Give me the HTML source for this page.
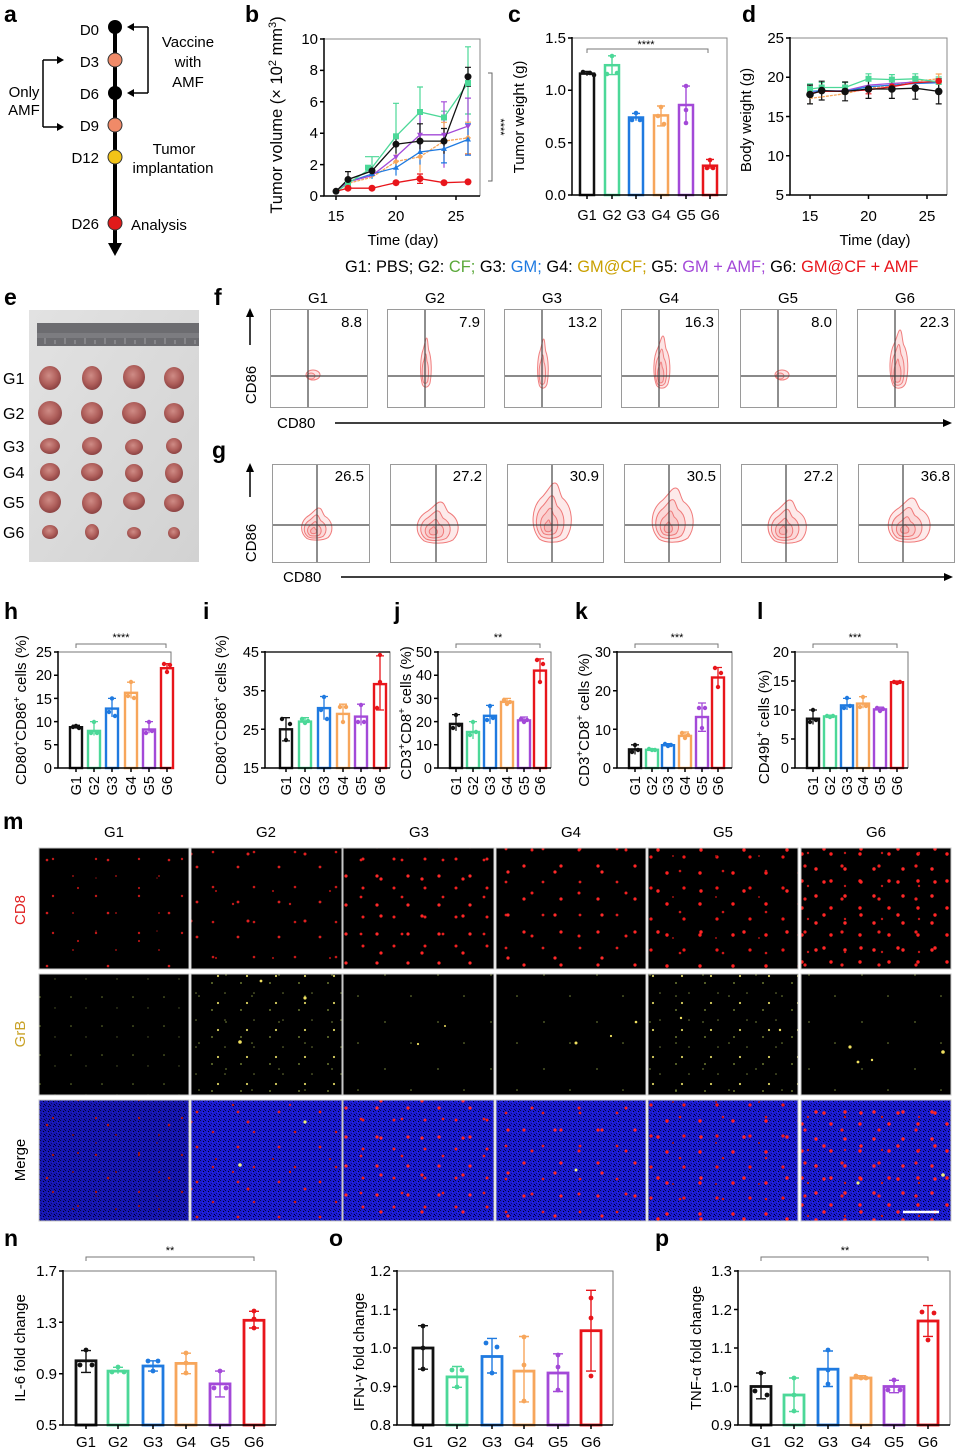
<!DOCTYPE html>
<html><head><meta charset="utf-8"><style>
html,body{margin:0;padding:0;background:#fff;}
svg{display:block;}
text{font-family:"Liberation Sans",Arial,sans-serif;}
</style></head><body>
<svg width="955" height="1450" viewBox="0 0 955 1450" xmlns="http://www.w3.org/2000/svg" font-family="Liberation Sans, Arial, sans-serif">
<defs>
<path id="blob" vector-effect="non-scaling-stroke" d="M-0.6,0.9 C-1.05,0.5 -1,-0.2 -0.45,-0.55 C-0.15,-0.8 -0.05,-1 0.1,-1 C0.3,-1 0.3,-0.7 0.45,-0.5 C0.95,-0.2 1,0.45 0.65,0.85 C0.35,1.05 -0.3,1.05 -0.6,0.9 Z"/>
<radialGradient id="tum" cx="0.45" cy="0.4" r="0.6">
<stop offset="0" stop-color="#cf8c86"/><stop offset="0.6" stop-color="#b0605c"/><stop offset="1" stop-color="#8c4242"/>
</radialGradient>
<linearGradient id="photo" x1="0" y1="0" x2="1" y2="1">
<stop offset="0" stop-color="#e2e2e2"/><stop offset="1" stop-color="#d2d2d2"/>
</linearGradient>
<pattern id="cd1" width="43" height="37" patternUnits="userSpaceOnUse"><circle cx="10" cy="8" r="1.2" fill="#c01818"/><circle cx="30" cy="25" r="1" fill="#901010"/></pattern>
<pattern id="cdx1" width="61" height="53" patternUnits="userSpaceOnUse"><circle cx="17" cy="40" r="1.1" fill="#b01414"/><circle cx="47" cy="12" r="1.3" fill="#d01c1c"/><circle cx="35" cy="30" r="0.8" fill="#801010"/></pattern>
<pattern id="cd2" width="41" height="35" patternUnits="userSpaceOnUse"><circle cx="8" cy="12" r="1.3" fill="#c81818"/><circle cx="33" cy="27" r="1.4" fill="#d82020"/></pattern>
<pattern id="cdx2" width="57" height="67" patternUnits="userSpaceOnUse"><circle cx="20" cy="50" r="1.5" fill="#e02020"/><circle cx="45" cy="20" r="1.1" fill="#a01010"/><circle cx="5" cy="33" r="1.2" fill="#c01818"/></pattern>
<pattern id="cd3" width="31" height="29" patternUnits="userSpaceOnUse"><circle cx="5" cy="6" r="1.6" fill="#ff2a2a"/><circle cx="22" cy="18" r="1.5" fill="#f02020"/></pattern>
<pattern id="cdx3" width="41" height="37" patternUnits="userSpaceOnUse"><circle cx="12" cy="28" r="1.6" fill="#ff2525"/><circle cx="33" cy="9" r="1.4" fill="#e81e1e"/></pattern>
<pattern id="cd4" width="37" height="33" patternUnits="userSpaceOnUse"><circle cx="6" cy="8" r="1.6" fill="#ff2525"/><circle cx="25" cy="24" r="1.4" fill="#e01e1e"/></pattern>
<pattern id="cdx4" width="47" height="43" patternUnits="userSpaceOnUse"><circle cx="15" cy="33" r="1.5" fill="#f22020"/><circle cx="38" cy="12" r="1.6" fill="#ff2a2a"/></pattern>
<pattern id="cd5" width="33" height="31" patternUnits="userSpaceOnUse"><circle cx="7" cy="5" r="1.7" fill="#ff2020"/><circle cx="24" cy="20" r="1.6" fill="#f01818"/></pattern>
<pattern id="cdx5" width="43" height="41" patternUnits="userSpaceOnUse"><circle cx="13" cy="30" r="1.7" fill="#ff2424"/><circle cx="35" cy="10" r="1.3" fill="#d01818"/><circle cx="28" cy="36" r="1" fill="#a01010"/></pattern>
<pattern id="cd6" width="29" height="27" patternUnits="userSpaceOnUse"><circle cx="4" cy="5" r="1.7" fill="#ff2828"/><circle cx="19" cy="17" r="1.7" fill="#ff2020"/></pattern>
<pattern id="cdx6" width="37" height="33" patternUnits="userSpaceOnUse"><circle cx="10" cy="24" r="1.7" fill="#ff2525"/><circle cx="28" cy="8" r="1.6" fill="#f02020"/><circle cx="31" cy="28" r="1.2" fill="#c01818"/></pattern>
<pattern id="gr1" width="31" height="29" patternUnits="userSpaceOnUse"><circle cx="9" cy="11" r="0.8" fill="#6a7a30"/><circle cx="24" cy="22" r="0.7" fill="#50582a"/></pattern>
<pattern id="gr2" width="29" height="27" patternUnits="userSpaceOnUse"><circle cx="9" cy="11" r="0.9" fill="#8a9a40"/><circle cx="22" cy="21" r="0.8" fill="#707a38"/><circle cx="15" cy="4" r="1.1" fill="#d8d060"/></pattern>
<pattern id="grx" width="53" height="47" patternUnits="userSpaceOnUse"><circle cx="14" cy="35" r="0.9" fill="#606c30"/><circle cx="40" cy="9" r="0.8" fill="#7a8a3a"/></pattern>
<pattern id="blu" width="5" height="5" patternUnits="userSpaceOnUse">
<rect width="5" height="5" fill="#1c1cd0"/><rect x="0" y="0" width="1" height="1" fill="#06064a"/><rect x="3" y="1" width="1" height="1" fill="#000020"/><rect x="1" y="3" width="1" height="1" fill="#0a0a80"/><rect x="4" y="4" width="1" height="1" fill="#000030"/><rect x="2" y="2" width="1" height="1" fill="#2a2ae6"/>
</pattern>
</defs>

<!-- ============ PANEL A ============ -->
<g font-size="15" fill="#000">
<text x="4" y="22" font-size="23" font-weight="bold">a</text>
<line x1="115" y1="27" x2="115" y2="246" stroke="#000" stroke-width="4"/>
<polygon points="108,243 122,243 115,256" fill="#000"/>
<circle cx="115" cy="27" r="7" fill="#000"/>
<circle cx="115" cy="60" r="7" fill="#f08a68" stroke="#333" stroke-width="1"/>
<circle cx="115" cy="93" r="7" fill="#000"/>
<circle cx="115" cy="125" r="7" fill="#f08a68" stroke="#333" stroke-width="1"/>
<circle cx="115" cy="157" r="7" fill="#f2c318" stroke="#333" stroke-width="1"/>
<circle cx="115" cy="223" r="7" fill="#e01a1a" stroke="#333" stroke-width="1"/>
<g text-anchor="end">
<text x="99" y="35">D0</text><text x="99" y="67">D3</text><text x="99" y="99">D6</text><text x="99" y="131">D9</text><text x="99" y="163">D12</text><text x="99" y="229">D26</text>
</g>
<path d="M148 27V93M130 27H148M130 93H148" stroke="#000" stroke-width="1.5" fill="none"/>
<polygon points="127,27 134,23 134,31" fill="#000"/><polygon points="127,93 134,89 134,97" fill="#000"/>
<path d="M43 60V127M43 60H60M43 127H60" stroke="#000" stroke-width="1.5" fill="none"/>
<polygon points="64,60 57,56 57,64" fill="#000"/><polygon points="64,127 57,123 57,131" fill="#000"/>
<g text-anchor="middle">
<text x="188" y="47">Vaccine</text><text x="188" y="67">with</text><text x="188" y="87">AMF</text>
<text x="24" y="97">Only</text><text x="24" y="115">AMF</text>
<text x="174" y="154">Tumor</text><text x="173" y="173">implantation</text>
</g>
<text x="131" y="230">Analysis</text>
</g>

<!-- ============ PANEL B ============ -->
<g font-size="15">
<text x="245" y="22" font-size="23" font-weight="bold">b</text>
<path d="M324 39H480V196" stroke="#888" stroke-width="1" fill="none"/>
<path d="M324 38V196H480" stroke="#000" stroke-width="1.5" fill="none"/>
<path d="M320 196H324M320 164.6H324M320 133.2H324M320 101.8H324M320 70.4H324M320 39H324M336 196V200M396 196V200M456 196V200" stroke="#000" stroke-width="1.5"/>
<g text-anchor="end"><text x="318" y="201">0</text><text x="318" y="170">2</text><text x="318" y="138">4</text><text x="318" y="107">6</text><text x="318" y="75">8</text><text x="318" y="44">10</text></g>
<g text-anchor="middle"><text x="336" y="221">15</text><text x="396" y="221">20</text><text x="456" y="221">25</text>
<text x="403" y="245">Time (day)</text></g>
<text transform="translate(282,115) rotate(-90)" text-anchor="middle" font-size="16.5">Tumor volume (× 10<tspan dy="-6" font-size="11">2</tspan><tspan dy="6"> mm</tspan><tspan dy="-6" font-size="11">3</tspan><tspan dy="6">)</tspan></text>
<path d="M488 73H492V181H488" stroke="#666" stroke-width="1" fill="none"/>
<text transform="translate(497,127) rotate(90)" text-anchor="middle" font-size="11">****</text>
<g stroke-width="1.2" fill="none">
<path stroke="#4cd898" d="M348 178.7V188.1M372 156.7V178.7M396 103.3V169.3M420 87V137M444 111.2V123.8M468 46.8V114M365 156.7H379M393 103.3H399M417 87H423M441 111.2H447M465 46.8H471M465 114H471"/>
<path stroke="#a349d8" d="M420 112.8V156.8M444 101.8V167.8M468 98.1V154.1M417 112.8H423M441 101.8H447M465 98.1H471M465 154.1H471"/>
<path stroke="#f7a65b" d="M396 153.6V169.4M420 141V172.5M444 122.3V159.9M468 122.2V153.6M417 141H423M441 122.3H447M465 122.2H471M465 153.6H471"/>
<path stroke="#1f7ae0" d="M348 177.2V186.6M372 169.3V178.7M396 159.8V175.6M420 139.4V164.6M444 134.9V162.9M468 123.8V155.2M441 134.9H447M441 162.9H447M465 123.8H471M465 155.2H471"/>
<path stroke="#111" d="M348 171.6V187.4M372 166.2V175.6M396 134.8V153.6M420 123.8V158.4M444 128.5V153.7M468 67.3V86.1M345 171.6H351M393 134.8H399M417 123.8H423M441 128.5H447M465 67.3H471M465 86.1H471"/>
<path stroke="#e8151b" d="M420 174V183.4M417 174H423M417 183.4H423"/>
</g>
<g fill="none" stroke-width="1.3">
<polyline stroke="#f7a65b" stroke-dasharray="3,1" points="336,191.3 348,183.4 372,177.2 396,161.5 420,156.75 444,141.1 468,137.9"/>
<polyline stroke="#1f7ae0" points="336,191.3 348,181.9 372,174 396,167.7 420,152 444,148.9 468,139.5"/>
<polyline stroke="#a349d8" points="336,191.3 348,181.9 372,175.6 396,156.75 420,134.8 444,134.8 468,126.1"/>
<polyline stroke="#4cd898" points="336,192.1 348,183.4 372,167.7 396,136.3 420,112 444,117.5 468,83"/>
<polyline stroke="#111" points="336,191.3 348,179.5 372,170.9 396,144.2 420,141.1 444,141.1 468,76.7"/>
<polyline stroke="#e8151b" points="336,191.3 348,188.2 372,188.2 396,182.7 420,178.7 444,182.7 468,181.9"/>
</g>
<g fill="#f7a65b"><path d="M396 158.5l3 3-3 3-3-3zM420 153.75l3 3-3 3-3-3zM444 138.1l3 3-3 3-3-3zM468 134.9l3 3-3 3-3-3z"/></g>
<g fill="#1f7ae0"><path d="M348 178.9l3 5h-6zM372 171l3 5h-6zM396 164.7l3 5h-6zM420 149l3 5h-6zM444 145.9l3 5h-6zM468 136.5l3 5h-6z"/></g>
<g fill="#a349d8"><path d="M396 159.75l3-5h-6zM420 137.8l3-5h-6zM444 137.8l3-5h-6zM468 129.1l3-5h-6z"/></g>
<g fill="#4cd898"><rect x="365" y="164.7" width="6" height="6"/><rect x="393" y="133.3" width="6" height="6"/><rect x="417" y="109" width="6" height="6"/><rect x="441" y="114.5" width="6" height="6"/><rect x="465" y="80" width="6" height="6"/><rect x="345" y="180.4" width="6" height="6"/></g>
<g fill="#111"><circle cx="336" cy="191.3" r="3.5"/><circle cx="348" cy="179.5" r="3.5"/><circle cx="372" cy="170.9" r="3.5"/><circle cx="396" cy="144.2" r="3.5"/><circle cx="420" cy="141.1" r="3.5"/><circle cx="444" cy="141.1" r="3.5"/><circle cx="468" cy="76.7" r="3.5"/></g>
<g fill="#e8151b"><circle cx="348" cy="188.2" r="3.5"/><circle cx="372" cy="188.2" r="3.5"/><circle cx="396" cy="182.7" r="3.5"/><circle cx="420" cy="178.7" r="3.5"/><circle cx="444" cy="182.7" r="3.5"/><circle cx="468" cy="181.9" r="3.5"/></g>
</g>

<!-- ============ PANEL C ============ -->
<g font-size="15">
<text x="508" y="22" font-size="23" font-weight="bold">c</text>
<path d="M572 38H727V195" stroke="#888" stroke-width="1" fill="none"/>
<g stroke-width="2.5" fill="#fff">
<rect x="580" y="73.6" width="14" height="121.4" stroke="#111"/>
<rect x="605" y="65.2" width="14" height="129.8" stroke="#4cd898"/>
<rect x="629" y="117.5" width="14" height="77.5" stroke="#1f7ae0"/>
<rect x="654" y="115.4" width="14" height="79.6" stroke="#f7a65b"/>
<rect x="679" y="105" width="14" height="90" stroke="#a349d8"/>
<rect x="703" y="165.7" width="14" height="29.3" stroke="#e8151b"/>
</g>
<g stroke-width="1.4" fill="none">
<path stroke="#111" d="M587 71.5V75.7M583 71.5H591"/>
<path stroke="#4cd898" d="M612 55.8V74.6M608 55.8H616M608 74.6H616"/>
<path stroke="#1f7ae0" d="M636 113.4V120.7M632 113.4H640"/>
<path stroke="#f7a65b" d="M661 106V125.9M657 106H665M657 125.9H665"/>
<path stroke="#a349d8" d="M686 86.1V123.8M682 86.1H690"/>
<path stroke="#e8151b" d="M710 159.4V168.8M706 159.4H714"/>
</g>
<g fill="#111"><circle cx="583" cy="72" r="2.3"/><circle cx="590" cy="73" r="2.3"/><circle cx="594" cy="75" r="2.3"/></g>
<g fill="#4cd898"><circle cx="612" cy="56" r="2.3"/><circle cx="607" cy="74" r="2.3"/><circle cx="617" cy="73" r="2.3"/></g>
<g fill="#1f7ae0"><circle cx="636" cy="113" r="2.3"/><circle cx="632" cy="120" r="2.3"/><circle cx="640" cy="120" r="2.3"/></g>
<g fill="#f7a65b"><circle cx="661" cy="107" r="2.3"/><circle cx="658" cy="116" r="2.3"/><circle cx="664" cy="124" r="2.3"/></g>
<g fill="#a349d8"><circle cx="686" cy="86" r="2.3"/><circle cx="686" cy="110" r="2.3"/><circle cx="686" cy="123" r="2.3"/></g>
<g fill="#e8151b"><circle cx="710" cy="160" r="2.3"/><circle cx="707" cy="168" r="2.3"/><circle cx="713" cy="168" r="2.3"/></g>
<path d="M572 37V195H727" stroke="#000" stroke-width="1.5" fill="none"/>
<path d="M568 195H572M568 142.7H572M568 90.3H572M568 38H572M587 195V199M612 195V199M636 195V199M661 195V199M686 195V199M710 195V199" stroke="#000" stroke-width="1.5"/>
<g text-anchor="end"><text x="566" y="200">0.0</text><text x="566" y="148">0.5</text><text x="566" y="95">1.0</text><text x="566" y="43">1.5</text></g>
<g text-anchor="middle" font-size="14.5"><text x="587" y="220">G1</text><text x="612" y="220">G2</text><text x="636" y="220">G3</text><text x="661" y="220">G4</text><text x="686" y="220">G5</text><text x="710" y="220">G6</text></g>
<path d="M587 53V49H708V53" stroke="#777" stroke-width="1" fill="none"/>
<text x="646" y="48" text-anchor="middle" font-size="11">****</text>
<text transform="translate(524,117) rotate(-90)" text-anchor="middle">Tumor weight (g)</text>
</g>

<!-- ============ PANEL D ============ -->
<g font-size="15">
<text x="742" y="22" font-size="23" font-weight="bold">d</text>
<path d="M790 38H947V195" stroke="#888" stroke-width="1" fill="none"/>
<path d="M790 37V195H947" stroke="#000" stroke-width="1.5" fill="none"/>
<path d="M786 195H790M786 155.75H790M786 116.5H790M786 77.25H790M786 38H790M810 195V199M868.5 195V199M927 195V199" stroke="#000" stroke-width="1.5"/>
<g text-anchor="end"><text x="784" y="200">5</text><text x="784" y="161">10</text><text x="784" y="122">15</text><text x="784" y="82">20</text><text x="784" y="43">25</text></g>
<g text-anchor="middle"><text x="810" y="221">15</text><text x="868.5" y="221">20</text><text x="927" y="221">25</text><text x="875" y="245">Time (day)</text></g>
<text transform="translate(751,120) rotate(-90)" text-anchor="middle">Body weight (g)</text>
<g stroke-width="1.2" fill="none">
<path stroke="#4cd898" d="M810 84V94M821.7 82.5V92.5M845.1 82.5V92.5M868.5 73.8V83.8M891.9 74.6V84.6M915.3 73.8V83.8M938.7 77V87M807 84H813M818.7 82.5H824.7M842.1 82.5H848.1M865.5 73.8H871.5M888.9 74.6H894.9M912.3 73.8H918.3M935.7 77H941.7"/>
<path stroke="#f7a65b" d="M810 94V103M938.7 74V84M935.7 74H941.7"/>
<path stroke="#e8151b" d="M868.5 85.8V93.8M865.5 93.8H871.5"/>
<path stroke="#111" d="M810 85.1V103.9M821.7 81.2V100M845.1 82V100.8M868.5 79.6V98.4M891.9 79.6V98.4M915.3 77.2V99.2M938.7 78.9V103.9M807 85.1H813M807 103.9H813M818.7 81.2H824.7M818.7 100H824.7M842.1 82H848.1M842.1 100.8H848.1M865.5 79.6H871.5M865.5 98.4H871.5M888.9 79.6H894.9M888.9 98.4H894.9M912.3 77.2H918.3M912.3 99.2H918.3M935.7 78.9H941.7M935.7 103.9H941.7"/>
</g>
<g fill="none" stroke-width="1.3">
<polyline stroke="#f7a65b" stroke-dasharray="3,1" points="810,98.4 821.7,96.9 845.1,93.7 868.5,88.2 891.9,85.1 915.3,81.2 938.7,78.8"/>
<polyline stroke="#a349d8" points="810,93 821.7,91.4 845.1,90.6 868.5,85.1 891.9,83.5 915.3,82 938.7,82.7"/>
<polyline stroke="#1f7ae0" points="810,91.4 821.7,90.6 845.1,91.4 868.5,86.7 891.9,85.1 915.3,83.5 938.7,82.7"/>
<polyline stroke="#e8151b" points="810,93.7 821.7,91.4 845.1,91.4 868.5,89.8 891.9,86.7 915.3,82.7 938.7,81.2"/>
<polyline stroke="#4cd898" points="810,89 821.7,87.5 845.1,87.5 868.5,78.8 891.9,79.6 915.3,78.8 938.7,82"/>
<polyline stroke="#111" points="810,94.5 821.7,90.6 845.1,91.4 868.5,89 891.9,89 915.3,88.2 938.7,91.4"/>
</g>
<g fill="#4cd898"><rect x="807" y="86" width="6" height="6"/><rect x="818.7" y="84.5" width="6" height="6"/><rect x="842.1" y="84.5" width="6" height="6"/><rect x="865.5" y="75.8" width="6" height="6"/><rect x="888.9" y="76.6" width="6" height="6"/><rect x="912.3" y="75.8" width="6" height="6"/><rect x="935.7" y="79" width="6" height="6"/></g>
<g fill="#e8151b"><circle cx="868.5" cy="89.8" r="3.3"/><circle cx="891.9" cy="86.7" r="3.3"/><circle cx="938.7" cy="81.2" r="3.3"/></g>
<g fill="#111"><circle cx="810" cy="94.5" r="3.8"/><circle cx="821.7" cy="90.6" r="3.8"/><circle cx="845.1" cy="91.4" r="3.8"/><circle cx="868.5" cy="89" r="3.8"/><circle cx="891.9" cy="89" r="3.8"/><circle cx="915.3" cy="88.2" r="3.8"/><circle cx="938.7" cy="91.4" r="3.8"/></g>
</g>

<!-- legend line -->
<text x="345" y="272" font-size="16.4">G1: PBS; G2: <tspan fill="#5aa83a">CF;</tspan> G3: <tspan fill="#1f7ae0">GM;</tspan> G4: <tspan fill="#c9a000">GM@CF;</tspan> G5: <tspan fill="#a349d8">GM + AMF;</tspan> G6: <tspan fill="#e8151b">GM@CF + AMF</tspan></text>

<!-- ============ PANEL E ============ -->
<text x="4" y="305" font-size="23" font-weight="bold">e</text>
<rect x="29" y="310" width="170" height="252" fill="url(#photo)"/>
<rect x="37" y="323" width="162" height="23" fill="#6c6c70"/>
<rect x="37" y="333" width="162" height="5" fill="#7c7c80"/>
<path d="M45 338V344M55 340V344M65 338V344M75 340V344M85 338V344M95 340V344M105 338V344M115 340V344M125 338V344M135 340V344M145 338V344M155 340V344M165 338V344M175 340V344M185 338V344M195 340V344" stroke="#a0a0a4" stroke-width="1"/>
<g fill="url(#tum)">
<ellipse cx="50" cy="378" rx="11" ry="12"/><ellipse cx="92" cy="378" rx="10" ry="12"/><ellipse cx="134" cy="377" rx="11" ry="12"/><ellipse cx="174" cy="378" rx="10" ry="11"/>
<ellipse cx="50" cy="413" rx="12" ry="12"/><ellipse cx="92" cy="413" rx="11" ry="11"/><ellipse cx="134" cy="413" rx="12" ry="11"/><ellipse cx="174" cy="413" rx="10" ry="10"/>
<ellipse cx="50" cy="446" rx="10" ry="8"/><ellipse cx="92" cy="446" rx="10" ry="9"/><ellipse cx="134" cy="447" rx="9" ry="8"/><ellipse cx="174" cy="446" rx="8" ry="8"/>
<ellipse cx="50" cy="472" rx="10" ry="9"/><ellipse cx="92" cy="472" rx="11" ry="9"/><ellipse cx="134" cy="473" rx="9" ry="9"/><ellipse cx="174" cy="473" rx="9" ry="10"/>
<ellipse cx="50" cy="502" rx="11" ry="11"/><ellipse cx="92" cy="503" rx="10" ry="11"/><ellipse cx="134" cy="501" rx="11" ry="9"/><ellipse cx="174" cy="503" rx="10" ry="9"/>
<ellipse cx="50" cy="532" rx="8" ry="7"/><ellipse cx="92" cy="532" rx="7" ry="8"/><ellipse cx="134" cy="533" rx="7" ry="6"/><ellipse cx="174" cy="533" rx="6" ry="6"/>
</g>
<g font-size="16"><text x="3" y="384">G1</text><text x="3" y="419">G2</text><text x="3" y="452">G3</text><text x="3" y="478">G4</text><text x="3" y="508">G5</text><text x="3" y="538">G6</text></g>

<!-- ============ PANEL F ============ -->
<g font-size="15">
<text x="214" y="305" font-size="23" font-weight="bold">f</text>
<g text-anchor="middle"><text x="318" y="303">G1</text><text x="435" y="303">G2</text><text x="552" y="303">G3</text><text x="669" y="303">G4</text><text x="788" y="303">G5</text><text x="905" y="303">G6</text></g>
<g fill="none" stroke="#9a9a9a" stroke-width="1"><rect x="270.5" y="309.5" width="97" height="98"/><rect x="387.5" y="309.5" width="97" height="98"/><rect x="504.5" y="309.5" width="97" height="98"/><rect x="621.5" y="309.5" width="97" height="98"/><rect x="740.5" y="309.5" width="96" height="98"/><rect x="857.5" y="309.5" width="97" height="98"/></g>
<g fill="#fde4e4" stroke="#f08080" stroke-width="1">
<ellipse cx="313" cy="375" rx="7" ry="5"/><ellipse cx="311" cy="376" rx="4" ry="3" fill="#fbd0d0"/>
<ellipse cx="782" cy="375" rx="7" ry="5"/><ellipse cx="780" cy="376" rx="4" ry="3" fill="#fbd0d0"/>
<g transform="translate(426,362.5) scale(6,24.5)"><use href="#blob"/><use href="#blob" transform="translate(-0.1,0.25) scale(0.6)" fill="#fbd6d6"/></g>
<g transform="translate(543,363.5) scale(6,24.5)"><use href="#blob"/><use href="#blob" transform="translate(-0.1,0.25) scale(0.6)" fill="#fbd6d6"/></g>
<g transform="translate(662,362) scale(9,26)"><use href="#blob"/><use href="#blob" transform="translate(-0.1,0.2) scale(0.7)" fill="#fbd6d6"/><use href="#blob" transform="translate(-0.15,0.4) scale(0.4)" fill="#f8c4c4"/></g>
<g transform="translate(899,359) scale(10,29)"><use href="#blob"/><use href="#blob" transform="translate(-0.1,0.2) scale(0.7)" fill="#fbd6d6"/><use href="#blob" transform="translate(-0.15,0.4) scale(0.4)" fill="#f8c4c4"/></g>
</g>
<path d="M308 310V407M271 376H367M425 310V407M388 376H484M542 310V407M505 376H601M659 310V407M622 376H718M778 310V407M741 376H836M895 310V407M858 376H954" stroke="#444" stroke-width="1.2"/>
<g text-anchor="end"><text x="362" y="327">8.8</text><text x="480" y="327">7.9</text><text x="597" y="327">13.2</text><text x="714" y="327">16.3</text><text x="832" y="327">8.0</text><text x="949" y="327">22.3</text></g>
<path d="M250 345V314" stroke="#000" stroke-width="1.5"/><polygon points="250,308 246,317 254,317" fill="#000"/>
<text transform="translate(256,385) rotate(-90)" text-anchor="middle">CD86</text>
<text x="277" y="428">CD80</text>
<path d="M335 423H945" stroke="#000" stroke-width="1.5"/><polygon points="952,423 943,419 943,427" fill="#000"/>
</g>

<!-- ============ PANEL G ============ -->
<g font-size="15">
<text x="212" y="458" font-size="23" font-weight="bold">g</text>
<g fill="none" stroke="#9a9a9a" stroke-width="1"><rect x="272.5" y="464.5" width="97" height="98"/><rect x="390.5" y="464.5" width="96" height="98"/><rect x="507.5" y="464.5" width="96" height="98"/><rect x="624.5" y="464.5" width="96" height="98"/><rect x="741.5" y="464.5" width="96" height="98"/><rect x="858.5" y="464.5" width="96" height="98"/></g>
<g fill="#fdeaea" stroke="#f07a7a" stroke-width="1">
<g transform="translate(317,524) scale(17,16)"><use href="#blob"/><use href="#blob" transform="translate(-0.1,0.15) scale(0.72)" fill="#fbd8d8"/><use href="#blob" transform="translate(-0.15,0.3) scale(0.45)" fill="#f9cccc"/><use href="#blob" transform="translate(-0.2,0.4) scale(0.2)" fill="#f6bcbc"/></g>
<g transform="translate(438,522.5) scale(23,20.5)"><use href="#blob"/><use href="#blob" transform="translate(-0.1,0.15) scale(0.72)" fill="#fbd8d8"/><use href="#blob" transform="translate(-0.15,0.3) scale(0.45)" fill="#f9cccc"/><use href="#blob" transform="translate(-0.2,0.4) scale(0.2)" fill="#f6bcbc"/></g>
<g transform="translate(552.5,512.5) scale(21.5,29.5)"><use href="#blob"/><use href="#blob" transform="translate(-0.1,0.15) scale(0.72)" fill="#fbd8d8"/><use href="#blob" transform="translate(-0.15,0.3) scale(0.45)" fill="#f9cccc"/><use href="#blob" transform="translate(-0.2,0.45) scale(0.2)" fill="#f6bcbc"/></g>
<g transform="translate(673,515) scale(23,27)"><use href="#blob"/><use href="#blob" transform="translate(-0.1,0.15) scale(0.72)" fill="#fbd8d8"/><use href="#blob" transform="translate(-0.15,0.3) scale(0.45)" fill="#f9cccc"/><use href="#blob" transform="translate(-0.2,0.45) scale(0.2)" fill="#f6bcbc"/></g>
<g transform="translate(787.5,521.5) scale(21.5,21.5)"><use href="#blob"/><use href="#blob" transform="translate(-0.1,0.15) scale(0.72)" fill="#fbd8d8"/><use href="#blob" transform="translate(-0.15,0.3) scale(0.45)" fill="#f9cccc"/><use href="#blob" transform="translate(-0.2,0.4) scale(0.2)" fill="#f6bcbc"/></g>
<g transform="translate(909.5,520) scale(23.5,22)"><use href="#blob"/><use href="#blob" transform="translate(-0.1,0.15) scale(0.72)" fill="#fbd8d8"/><use href="#blob" transform="translate(-0.15,0.3) scale(0.45)" fill="#f9cccc"/><use href="#blob" transform="translate(-0.2,0.4) scale(0.2)" fill="#f6bcbc"/></g>
</g>
<path d="M317 465V562M273 525H369M436 465V562M391 525H486M552 465V562M508 525H603M669 465V562M625 525H720M786 465V562M742 525H837M903 465V562M859 525H954" stroke="#444" stroke-width="1.2"/>
<g text-anchor="end"><text x="364" y="481">26.5</text><text x="482" y="481">27.2</text><text x="599" y="481">30.9</text><text x="716" y="481">30.5</text><text x="833" y="481">27.2</text><text x="950" y="481">36.8</text></g>
<path d="M250 497V470" stroke="#000" stroke-width="1.5"/><polygon points="250,463 246,472 254,472" fill="#000"/>
<text transform="translate(256,543) rotate(-90)" text-anchor="middle">CD86</text>
<text x="283" y="582">CD80</text>
<path d="M341 577H946" stroke="#000" stroke-width="1.5"/><polygon points="953,577 944,573 944,581" fill="#000"/>
</g>

<!-- ============ PANELS H-L ============ -->
<g font-size="14.5">
<text x="4" y="619" font-size="23" font-weight="bold">h</text>
<text x="203" y="619" font-size="23" font-weight="bold">i</text>
<text x="394" y="619" font-size="23" font-weight="bold">j</text>
<text x="575" y="619" font-size="23" font-weight="bold">k</text>
<text x="757" y="619" font-size="23" font-weight="bold">l</text>

<path d="M58 652H171V768M265 652H390V768M438 652H551V768M617 652H732V768M795 652H908V768" stroke="#777" stroke-width="1" fill="none"/>
<path d="M265 652H390M617 652H732" stroke="#222" stroke-width="1.5" fill="none"/>

<g stroke-width="2.4" fill="#fff">
<rect x="70" y="727.2" width="12" height="40.8" stroke="#111"/><rect x="88" y="730.9" width="12" height="37.1" stroke="#4cd898"/><rect x="106" y="708.6" width="12" height="59.4" stroke="#1f7ae0"/><rect x="125" y="692.8" width="12" height="75.2" stroke="#f7a65b"/><rect x="143" y="729.5" width="12" height="38.5" stroke="#a349d8"/><rect x="161" y="668.2" width="12" height="99.8" stroke="#e8151b"/>
<rect x="280" y="729.3" width="12" height="38.7" stroke="#111"/><rect x="299" y="721.6" width="12" height="46.4" stroke="#4cd898"/><rect x="318" y="708.1" width="12" height="59.9" stroke="#1f7ae0"/><rect x="337" y="713.9" width="12" height="54.1" stroke="#f7a65b"/><rect x="355" y="716.6" width="12" height="51.4" stroke="#a349d8"/><rect x="374" y="684.1" width="12" height="83.9" stroke="#e8151b"/>
<rect x="450" y="723.9" width="12" height="44.1" stroke="#111"/><rect x="467" y="732" width="12" height="36" stroke="#4cd898"/><rect x="484" y="715.8" width="12" height="52.2" stroke="#1f7ae0"/><rect x="501" y="701.9" width="12" height="66.1" stroke="#f7a65b"/><rect x="518" y="720.4" width="12" height="47.6" stroke="#a349d8"/><rect x="534" y="670.6" width="12" height="97.4" stroke="#e8151b"/>
<rect x="629" y="749.4" width="12" height="18.6" stroke="#111"/><rect x="646" y="749.8" width="12" height="18.2" stroke="#4cd898"/><rect x="662" y="745.2" width="12" height="22.8" stroke="#1f7ae0"/><rect x="679" y="735.9" width="12" height="32.1" stroke="#f7a65b"/><rect x="696" y="717" width="12" height="51" stroke="#a349d8"/><rect x="712" y="677.5" width="12" height="90.5" stroke="#e8151b"/>
<rect x="807" y="718.7" width="12" height="49.3" stroke="#111"/><rect x="824" y="716.4" width="12" height="51.6" stroke="#4cd898"/><rect x="841" y="705.4" width="12" height="62.6" stroke="#1f7ae0"/><rect x="857" y="703.6" width="12" height="64.4" stroke="#f7a65b"/><rect x="874" y="709.4" width="12" height="58.6" stroke="#a349d8"/><rect x="891" y="682.2" width="12" height="85.8" stroke="#e8151b"/>
</g>
<g stroke-width="1.3" fill="none">
<path stroke="#111" d="M76 725.3V728.6M72 725.3H80M286 717.7V740.9M282 717.7H290M282 740.9H290M456 714.6V730.9M452 714.6H460M635 744.8V754.5M631 744.8H639M813 710V724.5M809 710H817"/>
<path stroke="#4cd898" d="M94 721.6V735.5M90 721.6H98M305 717.7V723.5M301 717.7H309M473 721.6V739M469 721.6H477M652 748.7V750.6M648 748.7H656M830 715.2V717.5M826 715.2H834"/>
<path stroke="#1f7ae0" d="M112 698.4V717M108 698.4H116M324 696.5V719.7M320 696.5H328M490 705.4V723.9M486 705.4H494M668 743.6V746.7M664 743.6H672M847 698.4V710M843 698.4H851"/>
<path stroke="#f7a65b" d="M131 682.2V698.4M127 682.2H135M343 704.2V723.5M339 704.2H347M507 698.4V705.4M503 698.4H511M685 732V739M681 732H689M863 696.7V708.3M859 696.7H867"/>
<path stroke="#a349d8" d="M149 721.6V733.2M145 721.6H153M361 704.2V725.4M357 704.2H365M524 717V722.8M520 717H528M702 703V731.3M698 703H706M698 731.3H706M880 707.1V711.2M876 707.1H884"/>
<path stroke="#e8151b" d="M167 663.6V672.9M163 663.6H171M380 655.9V710M376 655.9H384M376 710H384M540 658.9V682.2M536 658.9H544M718 667.5V686.8M714 667.5H722M897 681V683.3M893 681H901"/>
</g>
<g fill="#111"><circle cx="73" cy="727" r="2.2"/><circle cx="79" cy="728" r="2.2"/><circle cx="76" cy="726" r="2.2"/><circle cx="282" cy="719" r="2.2"/><circle cx="290" cy="724" r="2.2"/><circle cx="286" cy="740" r="2.2"/><circle cx="456" cy="715" r="2.2"/><circle cx="453" cy="728" r="2.2"/><circle cx="459" cy="725" r="2.2"/><circle cx="635" cy="745" r="2.2"/><circle cx="632" cy="752" r="2.2"/><circle cx="638" cy="750" r="2.2"/><circle cx="813" cy="710" r="2.2"/><circle cx="810" cy="722" r="2.2"/><circle cx="816" cy="720" r="2.2"/></g>
<g fill="#4cd898"><circle cx="94" cy="722" r="2.2"/><circle cx="91" cy="733" r="2.2"/><circle cx="97" cy="733" r="2.2"/><circle cx="302" cy="719" r="2.2"/><circle cx="308" cy="721" r="2.2"/><circle cx="305" cy="723" r="2.2"/><circle cx="473" cy="722" r="2.2"/><circle cx="470" cy="735" r="2.2"/><circle cx="476" cy="732" r="2.2"/><circle cx="649" cy="749" r="2.2"/><circle cx="655" cy="750" r="2.2"/><circle cx="652" cy="750" r="2.2"/><circle cx="827" cy="716" r="2.2"/><circle cx="833" cy="716" r="2.2"/><circle cx="830" cy="717" r="2.2"/></g>
<g fill="#1f7ae0"><circle cx="112" cy="698.4" r="2.2"/><circle cx="109" cy="712" r="2.2"/><circle cx="115" cy="716" r="2.2"/><circle cx="324" cy="697" r="2.2"/><circle cx="321" cy="710" r="2.2"/><circle cx="327" cy="719" r="2.2"/><circle cx="490" cy="706" r="2.2"/><circle cx="487" cy="720" r="2.2"/><circle cx="493" cy="718" r="2.2"/><circle cx="665" cy="744" r="2.2"/><circle cx="671" cy="745" r="2.2"/><circle cx="668" cy="746" r="2.2"/><circle cx="847" cy="698" r="2.2"/><circle cx="844" cy="708" r="2.2"/><circle cx="850" cy="706" r="2.2"/></g>
<g fill="#f7a65b"><circle cx="131" cy="682" r="2.2"/><circle cx="128" cy="696" r="2.2"/><circle cx="134" cy="698" r="2.2"/><circle cx="340" cy="707" r="2.2"/><circle cx="346" cy="707" r="2.2"/><circle cx="343" cy="722" r="2.2"/><circle cx="504" cy="700" r="2.2"/><circle cx="510" cy="702" r="2.2"/><circle cx="507" cy="704" r="2.2"/><circle cx="682" cy="733" r="2.2"/><circle cx="688" cy="735" r="2.2"/><circle cx="685" cy="738" r="2.2"/><circle cx="863" cy="697" r="2.2"/><circle cx="860" cy="707" r="2.2"/><circle cx="866" cy="706" r="2.2"/></g>
<g fill="#a349d8"><circle cx="149" cy="722" r="2.2"/><circle cx="146" cy="733" r="2.2"/><circle cx="152" cy="731" r="2.2"/><circle cx="361" cy="705" r="2.2"/><circle cx="358" cy="722" r="2.2"/><circle cx="364" cy="722" r="2.2"/><circle cx="521" cy="719" r="2.2"/><circle cx="527" cy="720" r="2.2"/><circle cx="524" cy="722" r="2.2"/><circle cx="699" cy="708" r="2.2"/><circle cx="705" cy="708" r="2.2"/><circle cx="702" cy="728" r="2.2"/><circle cx="877" cy="708" r="2.2"/><circle cx="883" cy="709" r="2.2"/><circle cx="880" cy="711" r="2.2"/></g>
<g fill="#e8151b"><circle cx="164" cy="664" r="2.2"/><circle cx="170" cy="665" r="2.2"/><circle cx="167" cy="672" r="2.2"/><circle cx="380" cy="655" r="2.2"/><circle cx="380" cy="682" r="2.2"/><circle cx="377" cy="708" r="2.2"/><circle cx="537" cy="660" r="2.2"/><circle cx="543" cy="664" r="2.2"/><circle cx="540" cy="682" r="2.2"/><circle cx="715" cy="668" r="2.2"/><circle cx="721" cy="673" r="2.2"/><circle cx="718" cy="687" r="2.2"/><circle cx="894" cy="682" r="2.2"/><circle cx="900" cy="682" r="2.2"/><circle cx="897" cy="683" r="2.2"/></g>

<path d="M58 651V768H171M265 651V768H390M438 651V768H551M617 651V768H732M795 651V768H908" stroke="#000" stroke-width="1.5" fill="none"/>
<path d="M54 768H58M54 744.8H58M54 721.6H58M54 698.4H58M54 675.2H58M54 652H58M76 768V772M94 768V772M112 768V772M131 768V772M149 768V772M167 768V772
M261 768H265M261 729.3H265M261 690.7H265M261 652H265M286 768V772M305 768V772M324 768V772M343 768V772M361 768V772M380 768V772
M434 768H438M434 744.8H438M434 721.6H438M434 698.4H438M434 675.2H438M434 652H438M456 768V772M473 768V772M490 768V772M507 768V772M524 768V772M540 768V772
M613 768H617M613 729.3H617M613 690.7H617M613 652H617M635 768V772M652 768V772M668 768V772M685 768V772M702 768V772M718 768V772
M791 768H795M791 739H795M791 710H795M791 681H795M791 652H795M813 768V772M830 768V772M847 768V772M863 768V772M880 768V772M897 768V772" stroke="#000" stroke-width="1.5"/>
<g text-anchor="end">
<text x="52" y="773">0</text><text x="52" y="750">5</text><text x="52" y="727">10</text><text x="52" y="704">15</text><text x="52" y="680">20</text><text x="52" y="657">25</text>
<text x="259" y="773">15</text><text x="259" y="735">25</text><text x="259" y="696">35</text><text x="259" y="657">45</text>
<text x="432" y="773">0</text><text x="432" y="750">10</text><text x="432" y="727">20</text><text x="432" y="704">30</text><text x="432" y="680">40</text><text x="432" y="657">50</text>
<text x="611" y="773">0</text><text x="611" y="735">10</text><text x="611" y="696">20</text><text x="611" y="657">30</text>
<text x="789" y="773">0</text><text x="789" y="744">5</text><text x="789" y="715">10</text><text x="789" y="686">15</text><text x="789" y="657">20</text>
</g>
<g text-anchor="end">
<text transform="translate(81,776) rotate(-90)">G1</text><text transform="translate(99,776) rotate(-90)">G2</text><text transform="translate(117,776) rotate(-90)">G3</text><text transform="translate(136,776) rotate(-90)">G4</text><text transform="translate(154,776) rotate(-90)">G5</text><text transform="translate(172,776) rotate(-90)">G6</text>
<text transform="translate(291,776) rotate(-90)">G1</text><text transform="translate(310,776) rotate(-90)">G2</text><text transform="translate(329,776) rotate(-90)">G3</text><text transform="translate(348,776) rotate(-90)">G4</text><text transform="translate(366,776) rotate(-90)">G5</text><text transform="translate(385,776) rotate(-90)">G6</text>
<text transform="translate(461,776) rotate(-90)">G1</text><text transform="translate(478,776) rotate(-90)">G2</text><text transform="translate(495,776) rotate(-90)">G3</text><text transform="translate(512,776) rotate(-90)">G4</text><text transform="translate(529,776) rotate(-90)">G5</text><text transform="translate(545,776) rotate(-90)">G6</text>
<text transform="translate(640,776) rotate(-90)">G1</text><text transform="translate(657,776) rotate(-90)">G2</text><text transform="translate(673,776) rotate(-90)">G3</text><text transform="translate(690,776) rotate(-90)">G4</text><text transform="translate(707,776) rotate(-90)">G5</text><text transform="translate(723,776) rotate(-90)">G6</text>
<text transform="translate(818,776) rotate(-90)">G1</text><text transform="translate(835,776) rotate(-90)">G2</text><text transform="translate(852,776) rotate(-90)">G3</text><text transform="translate(868,776) rotate(-90)">G4</text><text transform="translate(885,776) rotate(-90)">G5</text><text transform="translate(902,776) rotate(-90)">G6</text>
</g>
<g font-size="15" text-anchor="middle">
<text transform="translate(26,710) rotate(-90)">CD80<tspan dy="-6" font-size="10">+</tspan><tspan dy="6">CD86</tspan><tspan dy="-6" font-size="10">+</tspan><tspan dy="6"> cells (%)</tspan></text>
<text transform="translate(226,710) rotate(-90)">CD80<tspan dy="-6" font-size="10">+</tspan><tspan dy="6">CD86</tspan><tspan dy="-6" font-size="10">+</tspan><tspan dy="6"> cells (%)</tspan></text>
<text transform="translate(411,713) rotate(-90)">CD3<tspan dy="-6" font-size="10">+</tspan><tspan dy="6">CD8</tspan><tspan dy="-6" font-size="10">+</tspan><tspan dy="6"> cells (%)</tspan></text>
<text transform="translate(589,720) rotate(-90)">CD3<tspan dy="-6" font-size="10">+</tspan><tspan dy="6">CD8</tspan><tspan dy="-6" font-size="10">+</tspan><tspan dy="6"> cells (%)</tspan></text>
<text transform="translate(769,727) rotate(-90)">CD49b<tspan dy="-6" font-size="10">+</tspan><tspan dy="6"> cells (%)</tspan></text>
</g>
<path d="M76 648V644H166V648M456 648V644H540V648M635 648V644H718V648M813 648V644H897V648" stroke="#777" stroke-width="1" fill="none"/>
<g font-size="11" text-anchor="middle"><text x="121" y="641">****</text><text x="498" y="641">**</text><text x="677" y="641">***</text><text x="855" y="641">***</text></g>
</g>

<!-- ============ PANEL M ============ -->
<g font-size="15">
<text x="3" y="829" font-size="23" font-weight="bold">m</text>
<g text-anchor="middle"><text x="114" y="837">G1</text><text x="266" y="837">G2</text><text x="419" y="837">G3</text><text x="571" y="837">G4</text><text x="723" y="837">G5</text><text x="876" y="837">G6</text></g>
<text transform="translate(25,910) rotate(-90)" text-anchor="middle" fill="#e02020">CD8</text>
<text transform="translate(25,1034) rotate(-90)" text-anchor="middle" fill="#c9a227">GrB</text>
<text transform="translate(25,1160) rotate(-90)" text-anchor="middle">Merge</text>
<!-- row1 -->
<rect x="39" y="848" width="150" height="121" fill="#000"/><rect x="39" y="848" width="150" height="121" fill="url(#cd1)"/><rect x="39" y="848" width="150" height="121" fill="url(#cdx1)"/>
<rect x="191" y="848" width="151" height="121" fill="#000"/><rect x="191" y="848" width="151" height="121" fill="url(#cd2)"/><rect x="191" y="848" width="151" height="121" fill="url(#cdx2)"/>
<rect x="343" y="848" width="151" height="121" fill="#000"/><rect x="343" y="848" width="151" height="121" fill="url(#cd3)"/><rect x="343" y="848" width="151" height="121" fill="url(#cdx3)"/>
<rect x="496" y="848" width="150" height="121" fill="#000"/><rect x="496" y="848" width="150" height="121" fill="url(#cd4)"/><rect x="496" y="848" width="150" height="121" fill="url(#cdx4)"/>
<rect x="648" y="848" width="150" height="121" fill="#000"/><rect x="648" y="848" width="150" height="121" fill="url(#cd5)"/><rect x="648" y="848" width="150" height="121" fill="url(#cdx5)"/>
<rect x="801" y="848" width="150" height="121" fill="#000"/><rect x="801" y="848" width="150" height="121" fill="url(#cd6)"/><rect x="801" y="848" width="150" height="121" fill="url(#cdx6)"/>
<!-- row2 -->
<rect x="39" y="974" width="150" height="121" fill="#000"/><rect x="39" y="974" width="150" height="121" fill="url(#gr1)"/>
<rect x="191" y="974" width="151" height="121" fill="#000"/><rect x="191" y="974" width="151" height="121" fill="url(#gr2)"/><rect x="191" y="974" width="151" height="121" fill="url(#grx)"/>
<rect x="343" y="974" width="151" height="121" fill="#000"/><rect x="343" y="974" width="151" height="121" fill="url(#grx)"/>
<rect x="496" y="974" width="150" height="121" fill="#000"/><rect x="496" y="974" width="150" height="121" fill="url(#grx)"/>
<rect x="648" y="974" width="150" height="121" fill="#000"/><rect x="648" y="974" width="150" height="121" fill="url(#gr2)"/><rect x="648" y="974" width="150" height="121" fill="url(#grx)"/>
<rect x="801" y="974" width="150" height="121" fill="#000"/><rect x="801" y="974" width="150" height="121" fill="url(#grx)"/>
<g fill="#f0e060"><circle cx="240" cy="1042" r="1.8"/><circle cx="261" cy="981" r="1.4"/><circle cx="305" cy="998" r="1.6"/><circle cx="576" cy="1043" r="1.5"/><circle cx="850" cy="1047" r="1.6"/><circle cx="858" cy="1062" r="1.4"/><circle cx="943" cy="1052" r="1.8"/><circle cx="872" cy="1060" r="1.2"/><circle cx="418" cy="1044" r="1.1"/><circle cx="445" cy="1026" r="1"/><circle cx="611" cy="1036" r="1.1"/><circle cx="636" cy="1022" r="1.3"/><circle cx="681" cy="1018" r="1.2"/><circle cx="780" cy="1030" r="1.2"/></g>
<!-- row3 -->
<rect x="39" y="1100" width="150" height="121" fill="url(#blu)"/><rect x="39" y="1100" width="150" height="121" fill="url(#cd1)"/><rect x="39" y="1100" width="150" height="121" fill="url(#cdx1)"/>
<rect x="191" y="1100" width="151" height="121" fill="url(#blu)"/><rect x="191" y="1100" width="151" height="121" fill="url(#cd2)"/><rect x="191" y="1100" width="151" height="121" fill="url(#cdx2)"/>
<rect x="343" y="1100" width="151" height="121" fill="url(#blu)"/><rect x="343" y="1100" width="151" height="121" fill="url(#cd3)"/><rect x="343" y="1100" width="151" height="121" fill="url(#cdx3)"/>
<rect x="496" y="1100" width="150" height="121" fill="url(#blu)"/><rect x="496" y="1100" width="150" height="121" fill="url(#cd4)"/><rect x="496" y="1100" width="150" height="121" fill="url(#cdx4)"/>
<rect x="648" y="1100" width="150" height="121" fill="url(#blu)"/><rect x="648" y="1100" width="150" height="121" fill="url(#cd5)"/><rect x="648" y="1100" width="150" height="121" fill="url(#cdx5)"/>
<rect x="801" y="1100" width="150" height="121" fill="url(#blu)"/><rect x="801" y="1100" width="150" height="121" fill="url(#cd6)"/><rect x="801" y="1100" width="150" height="121" fill="url(#cdx6)"/>
<rect x="39" y="1100" width="150" height="121" fill="#000" opacity="0.15"/>
<g fill="#f0f080"><circle cx="240" cy="1165" r="1.8"/><circle cx="305" cy="1122" r="1.6"/><circle cx="576" cy="1170" r="1.5"/><circle cx="858" cy="1183" r="1.6"/><circle cx="943" cy="1175" r="1.8"/></g>
<g fill="none" stroke="#c8c8c8" stroke-width="1">
<rect x="39" y="848" width="150" height="121"/><rect x="191" y="848" width="151" height="121"/><rect x="343" y="848" width="151" height="121"/><rect x="496" y="848" width="150" height="121"/><rect x="648" y="848" width="150" height="121"/><rect x="801" y="848" width="150" height="121"/>
<rect x="39" y="974" width="150" height="121"/><rect x="191" y="974" width="151" height="121"/><rect x="343" y="974" width="151" height="121"/><rect x="496" y="974" width="150" height="121"/><rect x="648" y="974" width="150" height="121"/><rect x="801" y="974" width="150" height="121"/>
<rect x="39" y="1100" width="150" height="121"/><rect x="191" y="1100" width="151" height="121"/><rect x="343" y="1100" width="151" height="121"/><rect x="496" y="1100" width="150" height="121"/><rect x="648" y="1100" width="150" height="121"/><rect x="801" y="1100" width="150" height="121"/>
</g>
<line x1="903" y1="1212" x2="939" y2="1212" stroke="#fff" stroke-width="2.5"/>
</g>

<!-- ============ PANELS N-P ============ -->
<g font-size="15">
<text x="4" y="1246" font-size="23" font-weight="bold">n</text>
<text x="329" y="1246" font-size="23" font-weight="bold">o</text>
<text x="655" y="1246" font-size="23" font-weight="bold">p</text>
<path d="M63 1271H276V1425M397 1271H613V1425M738 1271H950V1425" stroke="#777" stroke-width="1" fill="none"/>
<g stroke-width="2.8" fill="#fff">
<rect x="76" y="1360.8" width="20" height="64.2" stroke="#111"/><rect x="108" y="1371.1" width="20" height="53.9" stroke="#4cd898"/><rect x="143" y="1366" width="20" height="59" stroke="#1f7ae0"/><rect x="176" y="1363.4" width="20" height="61.6" stroke="#f7a65b"/><rect x="210" y="1383.9" width="20" height="41.1" stroke="#a349d8"/><rect x="244" y="1320.3" width="20" height="104.7" stroke="#e8151b"/>
<rect x="413" y="1348" width="20" height="77" stroke="#111"/><rect x="447" y="1376.9" width="20" height="48.1" stroke="#4cd898"/><rect x="482" y="1356.5" width="20" height="68.5" stroke="#1f7ae0"/><rect x="514" y="1371.1" width="20" height="53.9" stroke="#f7a65b"/><rect x="548" y="1373" width="20" height="52" stroke="#a349d8"/><rect x="581" y="1330.7" width="20" height="94.3" stroke="#e8151b"/>
<rect x="751" y="1386.5" width="20" height="38.5" stroke="#111"/><rect x="784" y="1395" width="20" height="30" stroke="#4cd898"/><rect x="818" y="1369.2" width="20" height="55.8" stroke="#1f7ae0"/><rect x="851" y="1378" width="20" height="47" stroke="#f7a65b"/><rect x="884" y="1386.5" width="20" height="38.5" stroke="#a349d8"/><rect x="918" y="1321" width="20" height="104" stroke="#e8151b"/>
</g>
<g stroke-width="1.4" fill="none">
<path stroke="#111" d="M86 1350.6V1372.4M81 1350.6H91M81 1372.4H91M423 1325.7V1369.2M418 1325.7H428M418 1369.2H428M761 1373V1398.8M756 1373H766M756 1398.8H766"/>
<path stroke="#4cd898" d="M118 1367.3V1373.7M113 1367.3H123M457 1366.5V1387.3M452 1366.5H462M452 1387.3H462M794 1378V1411.5M789 1378H799M789 1411.5H799"/>
<path stroke="#1f7ae0" d="M153 1360.8V1371.1M148 1360.8H158M148 1371.1H158M492 1338.4V1373M487 1338.4H497M487 1373H497M828 1351V1386.5M823 1351H833M823 1386.5H833"/>
<path stroke="#f7a65b" d="M186 1353.2V1373.7M181 1353.2H191M181 1373.7H191M524 1336.5V1401.9M519 1336.5H529M519 1401.9H529M861 1375.7V1379.6M856 1375.7H866"/>
<path stroke="#a349d8" d="M220 1371.1V1396.9M215 1371.1H225M215 1396.9H225M558 1353.8V1391.5M553 1353.8H563M553 1391.5H563M894 1380.3V1392.7M889 1380.3H899M889 1392.7H899"/>
<path stroke="#e8151b" d="M254 1311.3V1328M249 1311.3H259M249 1328H259M591 1290.3V1371.1M586 1290.3H596M586 1371.1H596M928 1305.6V1336.4M923 1305.6H933M923 1336.4H933"/>
</g>
<g fill="#111"><circle cx="86" cy="1350" r="2.4"/><circle cx="80" cy="1365" r="2.4"/><circle cx="92" cy="1365" r="2.4"/><circle cx="423" cy="1326" r="2.4"/><circle cx="423" cy="1348" r="2.4"/><circle cx="423" cy="1369" r="2.4"/><circle cx="761" cy="1373" r="2.4"/><circle cx="755" cy="1391" r="2.4"/><circle cx="767" cy="1395" r="2.4"/></g>
<g fill="#4cd898"><circle cx="118" cy="1367" r="2.4"/><circle cx="112" cy="1372" r="2.4"/><circle cx="124" cy="1372" r="2.4"/><circle cx="452" cy="1370" r="2.4"/><circle cx="462" cy="1370" r="2.4"/><circle cx="457" cy="1387" r="2.4"/><circle cx="794" cy="1378" r="2.4"/><circle cx="794" cy="1395" r="2.4"/><circle cx="794" cy="1411" r="2.4"/></g>
<g fill="#1f7ae0"><circle cx="148" cy="1361" r="2.4"/><circle cx="158" cy="1361" r="2.4"/><circle cx="153" cy="1371" r="2.4"/><circle cx="486" cy="1343" r="2.4"/><circle cx="497" cy="1347" r="2.4"/><circle cx="492" cy="1373" r="2.4"/><circle cx="828" cy="1350" r="2.4"/><circle cx="828" cy="1370" r="2.4"/><circle cx="828" cy="1384" r="2.4"/></g>
<g fill="#f7a65b"><circle cx="186" cy="1353" r="2.4"/><circle cx="186" cy="1363" r="2.4"/><circle cx="186" cy="1373" r="2.4"/><circle cx="524" cy="1337" r="2.4"/><circle cx="524" cy="1365" r="2.4"/><circle cx="524" cy="1401" r="2.4"/><circle cx="856" cy="1376" r="2.4"/><circle cx="866" cy="1378" r="2.4"/><circle cx="861" cy="1378" r="2.4"/></g>
<g fill="#a349d8"><circle cx="220" cy="1371" r="2.4"/><circle cx="214" cy="1388" r="2.4"/><circle cx="226" cy="1388" r="2.4"/><circle cx="558" cy="1355" r="2.4"/><circle cx="558" cy="1367" r="2.4"/><circle cx="558" cy="1390" r="2.4"/><circle cx="894" cy="1380" r="2.4"/><circle cx="888" cy="1390" r="2.4"/><circle cx="900" cy="1390" r="2.4"/></g>
<g fill="#e8151b"><circle cx="254" cy="1311" r="2.4"/><circle cx="254" cy="1319" r="2.4"/><circle cx="254" cy="1328" r="2.4"/><circle cx="591" cy="1298" r="2.4"/><circle cx="591" cy="1318" r="2.4"/><circle cx="591" cy="1376" r="2.4"/><circle cx="922" cy="1312" r="2.4"/><circle cx="934" cy="1313" r="2.4"/><circle cx="928" cy="1340" r="2.4"/></g>
<path d="M63 1270V1425H276M397 1270V1425H613M738 1270V1425H950" stroke="#000" stroke-width="1.5" fill="none"/>
<path d="M59 1425H63M59 1373.7H63M59 1322.3H63M59 1271H63M86 1425V1429M118 1425V1429M153 1425V1429M186 1425V1429M220 1425V1429M254 1425V1429
M393 1425H397M393 1386.5H397M393 1348H397M393 1309.5H397M393 1271H397M423 1425V1429M457 1425V1429M492 1425V1429M524 1425V1429M558 1425V1429M591 1425V1429
M734 1425H738M734 1386.5H738M734 1348H738M734 1309.5H738M734 1271H738M761 1425V1429M794 1425V1429M828 1425V1429M861 1425V1429M894 1425V1429M928 1425V1429" stroke="#000" stroke-width="1.5"/>
<g text-anchor="end">
<text x="57" y="1430">0.5</text><text x="57" y="1379">0.9</text><text x="57" y="1328">1.3</text><text x="57" y="1276">1.7</text>
<text x="391" y="1430">0.8</text><text x="391" y="1392">0.9</text><text x="391" y="1353">1.0</text><text x="391" y="1315">1.1</text><text x="391" y="1276">1.2</text>
<text x="732" y="1430">0.9</text><text x="732" y="1392">1.0</text><text x="732" y="1353">1.1</text><text x="732" y="1315">1.2</text><text x="732" y="1276">1.3</text>
</g>
<g text-anchor="middle">
<text x="86" y="1447">G1</text><text x="118" y="1447">G2</text><text x="153" y="1447">G3</text><text x="186" y="1447">G4</text><text x="220" y="1447">G5</text><text x="254" y="1447">G6</text>
<text x="423" y="1447">G1</text><text x="457" y="1447">G2</text><text x="492" y="1447">G3</text><text x="524" y="1447">G4</text><text x="558" y="1447">G5</text><text x="591" y="1447">G6</text>
<text x="761" y="1447">G1</text><text x="794" y="1447">G2</text><text x="828" y="1447">G3</text><text x="861" y="1447">G4</text><text x="894" y="1447">G5</text><text x="928" y="1447">G6</text>
<text transform="translate(25,1348) rotate(-90)">IL-6 fold change</text>
<text transform="translate(364,1352) rotate(-90)">IFN-γ fold change</text>
<text transform="translate(701,1348) rotate(-90)">TNF-α fold change</text>
</g>
<path d="M86 1261V1257H254V1261M761 1261V1257H928V1261" stroke="#777" stroke-width="1" fill="none"/>
<g font-size="11" text-anchor="middle"><text x="170" y="1254">**</text><text x="845" y="1254">**</text></g>
</g>
</svg>
</body></html>
